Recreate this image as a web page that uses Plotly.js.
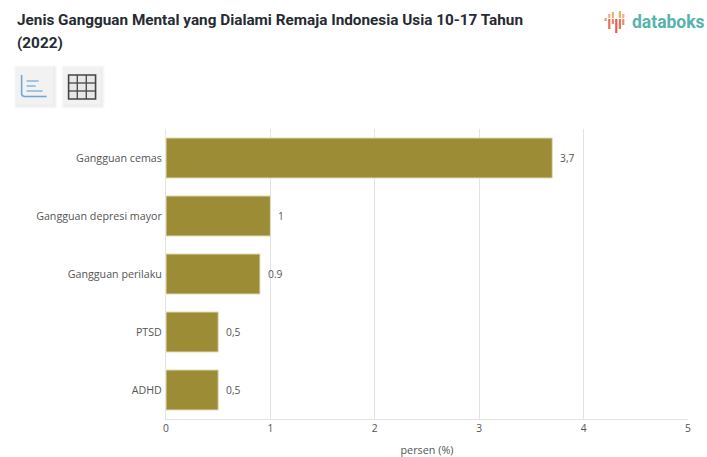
<!DOCTYPE html>
<html><head><meta charset="utf-8">
<script src="https://cdn.plot.ly/plotly-3.0.1.min.js"></script>
<style>html,body{margin:0;padding:0;background:#fff}#c{width:707px;height:457px}</style>
</head><body><div id="c"></div>
<script>
const categories = ["Gangguan cemas","Gangguan depresi mayor","Gangguan perilaku","PTSD","ADHD"];
const values = [3.7,1,0.9,0.5,0.5];
const valueLabels = ["3,7","1","0.9","0,5","0,5"];
const xTicks = [0,1,2,3,4,5];
const titleLines = ["Jenis Gangguan Mental yang Dialami Remaja Indonesia Usia 10-17 Tahun","(2022)"];
const axisTitle = "persen (%)";
const W=707,H=457;
const ml=165.5, mr=19, mt=129, mb=38;
const pw=W-ml-mr, ph=H-mt-mb;
const X=v=>(v-ml)/pw, Y=v=>1-(v-mt)/ph;
const shapes=[];
function rect(x0,y0,x1,y1,fill,line,lw,op){shapes.push({type:"rect",xref:"paper",yref:"paper",x0:X(x0),x1:X(x1),y0:Y(y1),y1:Y(y0),fillcolor:fill,opacity:op==null?1:op,line:{color:line||fill,width:lw||0},layer:"above"});}
function seg(x0,y0,x1,y1,c,w){shapes.push({type:"line",xref:"paper",yref:"paper",x0:X(x0),x1:X(x1),y0:Y(y0),y1:Y(y1),line:{color:c,width:w},layer:"above"});}
// soft button shadows and faces
[[15.5,67.5,52.5,104.5],[63,67.5,100,104.5]].forEach(b=>{
  [3,2,1].forEach(s=>rect(b[0]-s+1,b[1]-s+1,b[2]+s+1,b[3]+s+1,"#000",null,0,0.025));
  rect(b[0],b[1],b[2],b[3],"#f2f2f2");
});
// chart icon
seg(21,75,21,95,"#6fa8d6",1.6); seg(21,95,23,96.5,"#6fa8d6",1.6); seg(23,96.5,46,96.5,"#6fa8d6",1.6);
seg(26,81,38,81,"#8db9dc",1.6); seg(26,86,35,86,"#8db9dc",1.6); seg(26,91,42,91,"#8db9dc",1.6);
// table icon
rect(68,75,95,99,"#e8e8e8","#444",1.6);
seg(76.7,75,76.7,99,"#444",1.3); seg(85.7,75,85.7,99,"#444",1.3);
seg(68,83,95,83,"#444",1.3); seg(68,91,95,91,"#444",1.3);
// logo bars
[[605.5,18,21,"#ee9a7c"],[609.2,19,29,"#e4705c"],[609.2,14,18,"#f0b080"],[612.8,12,18,"#efb070"],[612.8,19,24,"#ea8a6a"],
 [616.2,19,33,"#e2604f"],[619.8,11,18,"#efb060"],[619.8,19,29,"#e4705c"],[623.2,14,18,"#f0b080"],[623.2,19,25,"#ea8a6a"]].forEach(b=>seg(b[0],b[1],b[0],b[2],b[3],2.2));

const annotations = categories.map((c,i)=>({x:values[i],y:c,xref:"x",yref:"y",text:valueLabels[i],showarrow:false,xanchor:"left",xshift:6,font:{family:"Open Sans, sans-serif",size:10.3,color:"#555"}}));
titleLines.forEach((t,i)=>annotations.push({xref:"paper",yref:"paper",x:X(14),y:Y(i?43:20),xanchor:"left",yanchor:"middle",showarrow:false,text:"<b>"+t+"</b>",font:{family:"Roboto, sans-serif",size:15.3,color:"#262b33"}}));
annotations.push({xref:"paper",yref:"paper",x:X(630),y:Y(21.5),xanchor:"left",yanchor:"middle",showarrow:false,text:"<b>databoks</b>",font:{family:"Roboto, sans-serif",size:17.5,color:"#57b3ab"}});

Plotly.newPlot("c",[{type:"bar",orientation:"h",y:categories,x:values,marker:{color:"#9c8c36",line:{color:"#e0dbb8",width:1}},hoverinfo:"skip",cliponaxis:false}],{
 width:W,height:H,margin:{l:ml,r:mr,t:mt,b:mb,pad:0},paper_bgcolor:"#fff",plot_bgcolor:"#fff",
 bargap:0.31,showlegend:false,
 font:{family:"Open Sans, sans-serif",size:10.7,color:"#555"},
 xaxis:{range:[0,5],tickvals:xTicks,ticktext:xTicks.map(String),showgrid:true,gridcolor:"#e3e3e3",gridwidth:1,zeroline:false,showline:true,linecolor:"#e3e3e3",ticks:"",tickfont:{size:10.3,color:"#555"},title:{text:axisTitle,font:{size:10.8,color:"#555"},standoff:12}},
 yaxis:{autorange:"reversed",type:"category",showgrid:false,zeroline:false,showline:true,linecolor:"#e3e3e3",ticks:"outside",ticklen:1,tickcolor:"rgba(0,0,0,0)",tickfont:{size:10.7,color:"#555"},automargin:false},
 shapes,annotations
},{displayModeBar:false,staticPlot:true});
</script></body></html>
